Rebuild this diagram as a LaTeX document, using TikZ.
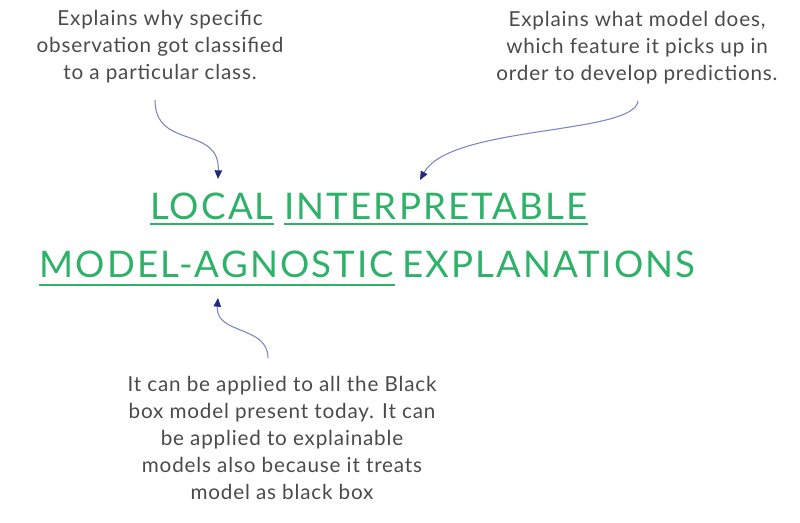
\documentclass[tikz,border=0pt]{standalone}
\usepackage{fontspec}
\setmainfont{Lato}
\usepackage{tikz}
\usetikzlibrary{arrows.meta, positioning}
\usepackage{xcolor}

\definecolor{limegreen}{HTML}{2EB168}
\definecolor{notegray}{HTML}{4A4A4A}
\definecolor{curveblue}{HTML}{7A86C8}
\definecolor{tipnavy}{HTML}{1F2A80}

\tikzset{
  note/.style={align=center, text=notegray,
    font=\fontsize{15.5}{20.2}\selectfont\addfontfeatures{LetterSpace=4}},
  title/.style={inner sep=0pt, anchor=base, text=limegreen,
    font=\fontsize{27.5}{32}\selectfont\addfontfeatures{LetterSpace=5.8}},
  uline/.style={limegreen, line width=1.5pt},
  pointer/.style={curveblue, line width=0.8pt,
    -{Triangle[length=6.5pt, width=5.5pt, fill=tipnavy, color=tipnavy]}}
}

\begin{document}
\begin{tikzpicture}[x=0.75pt, y=-0.75pt]
  \useasboundingbox (0,0) rectangle (800,522);

  % the four words of the title
  \node[title] (local) at (212,219) {LOCAL};
  \node[title] (interp) at (436,219) {INTERPRETABLE};
  \node[title] (agnostic) at (217,277) {MODEL-AGNOSTIC};
  \node[title] (expl) at (549,277) {EXPLANATIONS};
  \draw[uline] ([yshift=-4pt]local.base west) -- ([yshift=-4pt]local.base east);
  \draw[uline] ([yshift=-4pt]interp.base west) -- ([yshift=-4pt]interp.base east);
  \draw[uline] ([yshift=-6pt]agnostic.base west) -- ([yshift=-6pt]agnostic.base east);

  % notes
  \node[note] (why) at (160,47) {Explains why specific\\observation got classified\\to a particular class.};
  \node[note] (what) at (637,48) {Explains what model does,\\which feature it picks up in\\order to develop predictions.};
  \node[note] (any) at (282,438) {It can be applied to all the Black\\box model present today. It can\\be applied to explainable\\models also because it treats\\model as black box};

  % curved pointers
  \coordinate (whyend) at (155,100);
  \coordinate (whatend) at (638,101);
  \coordinate (anyend) at (268,358);
  \coordinate (localtip) at (218,179);
  \coordinate (interptip) at (420,180);
  \coordinate (agnostictip) at (218,298);
  \draw[pointer] (whyend) .. controls (155,150) and (220,125) .. (localtip);
  \draw[pointer] (whatend) .. controls (634,135) and (450,125) .. (interptip);
  \draw[pointer] (anyend) .. controls (268,325) and (215,335) .. (agnostictip);
\end{tikzpicture}
\end{document}
